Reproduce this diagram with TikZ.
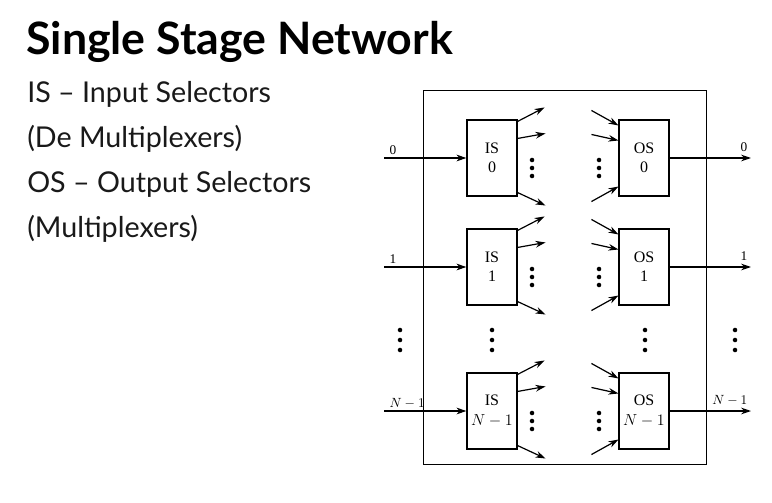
\documentclass[tikz,border=0pt]{standalone}
\usepackage{fontspec}
\setmainfont{Liberation Serif}
\newfontfamily\slidefont{Lato}
\usetikzlibrary{arrows.meta}

\begin{document}
\begin{tikzpicture}[x=0.75pt,y=0.75pt,yscale=-1,
  selbox/.style={draw,line width=0.8pt,minimum width=37.5pt,minimum height=57pt,inner sep=0pt,align=center,font=\fontsize{12}{14.5}\selectfont},
  sig/.style={line width=0.9pt,-{Stealth[length=7.5pt,width=5pt]}},
  lbl/.style={font=\fontsize{10}{11}\selectfont,inner sep=1pt},
  bullet/.style={fill,circle,inner sep=0pt,minimum size=3.4pt},
  slide/.style={anchor=west,inner sep=0pt,text=black!90,font=\slidefont\fontsize{21.5}{23}\selectfont}]
\useasboundingbox (0,0) rectangle (772,503);

% Text Node
\node [slide,text=black,font=\slidefont\bfseries\fontsize{33.5}{35}\selectfont] (title) at (26,42) {Single Stage Network};
% Text Node
\node [slide] (txtis) at (27,94) {IS \textendash\ Input Selectors};
\node [slide] (txtdemux) at (27,139) {(De Multiplexers)};
\node [slide] (txtos) at (27,184) {OS \textendash\ Output Selectors};
\node [slide] (txtmux) at (27,229) {(Multiplexers)};

%Shape: Frame
\draw [line width=0.7pt] (423,90) rectangle (706,464);

% rows: IS box, OS box, lines and arrows
\foreach \n/\y/\lab in {0/158/0, 1/267/1, 2/411/{$N-1$}}{
  \node [selbox] (is\n) at (492,\y) {IS\\\lab};
  \node [selbox] (os\n) at (644,\y) {OS\\\lab};
  \coordinate (in\n) at (384,\y);
  \coordinate (out\n) at (751,\y);
  \draw [sig] (in\n) -- (is\n.west);
  \draw [sig] (os\n.east) -- (out\n);
  \node [lbl,anchor=west] (inlbl\n) at (388,\y-8) {\lab};
  \node [lbl,anchor=east] (outlbl\n) at (749,\y-11) {\lab};
  % IS outputs
  \draw [sig] (is\n.north east) ++(0,2) -- ++(27,-14);
  \draw [sig] (is\n.north east) ++(0,19) -- ++(28,-5);
  \draw [sig] (is\n.south east) ++(0,-4) -- ++(28,13);
  % OS inputs
  \draw [sig] (os\n.north west) ++(-27,-9) -- ++(27,15);
  \draw [sig] (os\n.north west) ++(-27,15) -- ++(27,6);
  \draw [sig] (os\n.south west) ++(-27,5) -- ++(27,-15);
  \foreach \d in {2,10,18}{
    \node [bullet] at (532,\y+\d) {};
    \node [bullet] at (599,\y+\d) {};
  }
}

% middle dots
\foreach \x in {400,492,645,735}
  \foreach \d in {330,340,350}
    \node [bullet] at (\x,\d) {};

\end{tikzpicture}
\end{document}
